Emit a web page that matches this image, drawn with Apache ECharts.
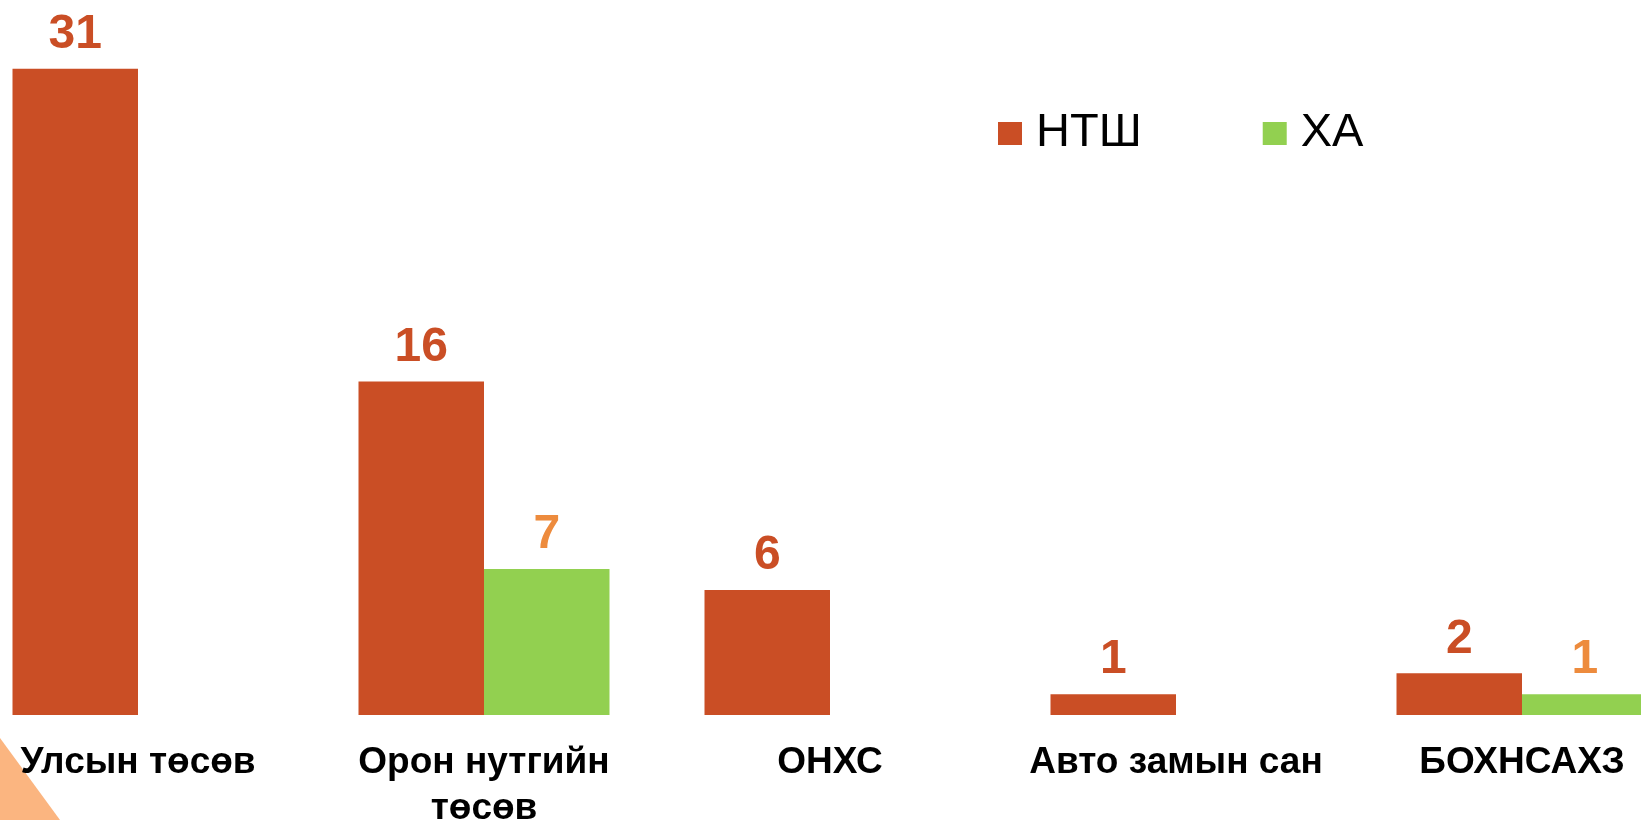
<!DOCTYPE html>
<html>
<head>
<meta charset="utf-8">
<title>НТШ / ХА</title>
<script src="https://cdn.jsdelivr.net/npm/echarts@6/dist/echarts.min.js"></script>
<style>
  html, body { margin: 0; padding: 0; background: #fff; }
  #chart { width: 1641px; height: 820px; }
</style>
</head>
<body>
<div id="chart"></div>
<script>
// data
var categories = ['Улсын төсөв', 'Орон нутгийн\nтөсөв', 'ОНХС', 'Авто замын сан', 'БОХНСАХЗ']
var seriesNames = ['НТШ', 'ХА']
var ntshValues = [31, 16, 6, 1, 2]
var haValues = [null, 7, null, null, 1]

var font = '"Liberation Sans", Arial, sans-serif'

var myChart = echarts.init(document.getElementById('chart'))

var option = {
  animation: false,
  backgroundColor: '#ffffff',
  textStyle: { fontFamily: font },
  legend: {
    data: seriesNames,
    left: 993,
    top: 105,
    icon: 'rect',
    itemWidth: 24,
    itemHeight: 23,
    itemGap: 121,
    textStyle: {
      color: '#000000',
      fontSize: 47,
      padding: [0, 0, 0, 9],
      fontFamily: font
    }
  },
  grid: {
    left: -35,
    right: -54,
    top: 48,
    bottom: 105,
    outerBoundsMode: 'none',
    containLabel: false
  },
  xAxis: {
    type: 'category',
    data: categories,
    axisLine: { show: false },
    axisTick: { show: false },
    axisLabel: {
      interval: 0,
      margin: 25,
      color: '#000000',
      fontSize: 37,
      fontWeight: 'bold',
      lineHeight: 46,
      fontFamily: font
    }
  },
  yAxis: {
    type: 'value',
    min: 0,
    max: 32,
    show: false,
    splitLine: { show: false }
  },
  series: [
    {
      name: seriesNames[0],
      type: 'bar',
      data: ntshValues,
      barWidth: 125.5,
      barGap: '0%',
      color: '#CA4E25',
      label: {
        show: true,
        position: 'top',
        distance: 10,
        color: '#CA4E25',
        fontSize: 48,
        fontWeight: 'bold',
        fontFamily: font
      }
    },
    {
      name: seriesNames[1],
      type: 'bar',
      data: haValues,
      barWidth: 125.5,
      barGap: '0%',
      color: '#92D050',
      label: {
        show: true,
        position: 'top',
        distance: 10,
        color: '#ED8B3D',
        fontSize: 48,
        fontWeight: 'bold',
        fontFamily: font
      }
    }
  ],
  graphic: [
    {
      // decorative corner shape of the slide
      type: 'polygon',
      z: -1,
      shape: { points: [[0, 738], [60, 820], [0, 820]] },
      style: { fill: '#FBB580' }
    }
  ]
}

myChart.setOption(option)
window.addEventListener('resize', function () { myChart.resize() })
</script>
</body>
</html>
